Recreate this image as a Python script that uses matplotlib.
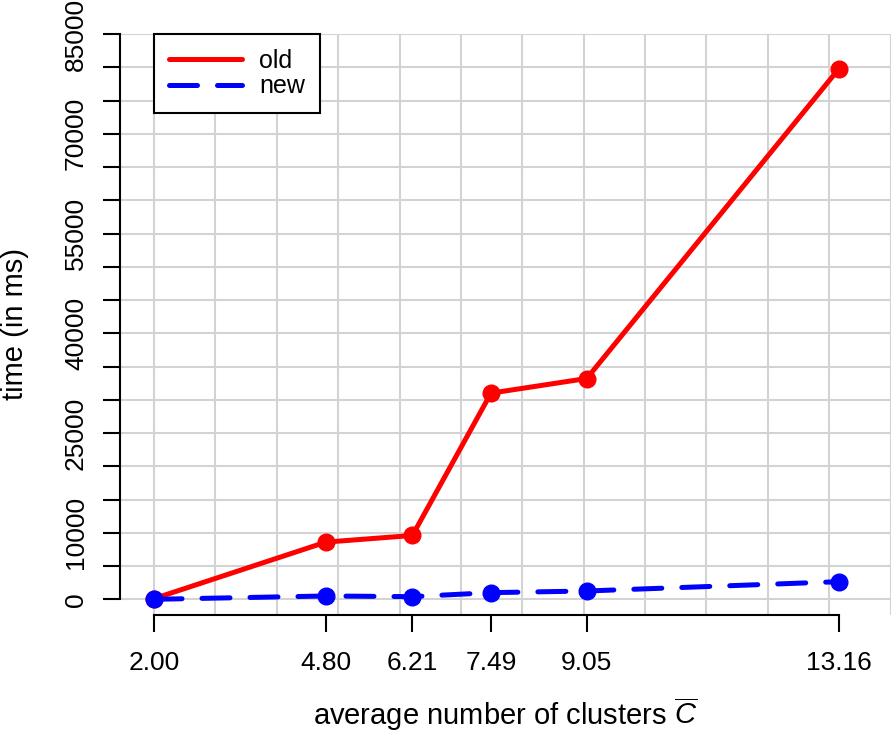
import matplotlib
matplotlib.use("Agg")
import matplotlib.pyplot as plt

# data
clusters = [2.00, 4.80, 6.21, 7.49, 9.05, 13.16]
tick_labels = ["2.00", "4.80", "6.21", "7.49", "9.05", "13.16"]
time_old = [100, 8600, 9600, 31000, 33200, 79800]
time_new = [0, 500, 400, 1000, 1250, 2650]
y_ticks = list(range(0, 85001, 5000))
y_labelled = [0, 10000, 25000, 40000, 55000, 70000, 85000]

plt.rcParams['font.family'] = ['Liberation Sans', 'DejaVu Sans']
plt.rcParams['mathtext.fontset'] = 'custom'
plt.rcParams['mathtext.it'] = 'Liberation Sans:italic'
plt.rcParams['mathtext.rm'] = 'Liberation Sans'

W, H = 891, 733
fig = plt.figure(figsize=(W / 100, H / 100), dpi=100)
ax = fig.add_axes([120 / W, (H - 615) / H, 771 / W, (615 - 34) / H])

ax.set_xlim(1.446, 14.007)
ax.set_ylim(-2360, 85000)

# grid
for gx in range(2, 15):
    ax.axvline(gx, color='#d3d3d3', lw=1.5, zorder=0)
for gy in y_ticks:
    ax.axhline(gy, color='#d3d3d3', lw=1.5, zorder=0)

ax.plot(clusters, time_old, color='red', lw=3.6, marker='o', ms=12,
        solid_capstyle='round', label='old', zorder=3)
ax.plot(clusters, time_new, color='blue', lw=3.6, marker='o', ms=12,
        dashes=(5.6, 4), dash_capstyle='round', label='new', zorder=4)

for s in ['top', 'right']:
    ax.spines[s].set_visible(False)
ax.spines['left'].set_bounds(0, 85000)
ax.spines['bottom'].set_bounds(2, 13.16)
ax.spines['left'].set_linewidth(1.5)
ax.spines['bottom'].set_linewidth(1.5)

ax.set_xticks(clusters)
ax.set_xticklabels(tick_labels)
ax.set_yticks(y_ticks)
ax.set_yticklabels([str(v) if v in y_labelled else '' for v in y_ticks],
                   rotation=90, va='center')
ax.tick_params(axis='both', length=12, width=1.5, labelsize=19)
ax.tick_params(axis='x', pad=14)
ax.tick_params(axis='y', pad=11)

ax.set_xlabel(r'average number of clusters $\overline{C}$', fontsize=21, labelpad=15)
ax.set_ylabel('time (in ms)', fontsize=21, labelpad=25)

leg = ax.legend(loc='upper left', bbox_to_anchor=(2, 85000),
                bbox_transform=ax.transData, borderaxespad=0,
                fontsize=18, handlelength=2.9, handletextpad=0.7,
                labelspacing=0.05, borderpad=0.6, fancybox=False,
                framealpha=1, edgecolor='black')
leg.get_frame().set_linewidth(1.5)
for h in leg.legend_handles:
    h.set_marker('')

fig.savefig('out.png', dpi=100)
